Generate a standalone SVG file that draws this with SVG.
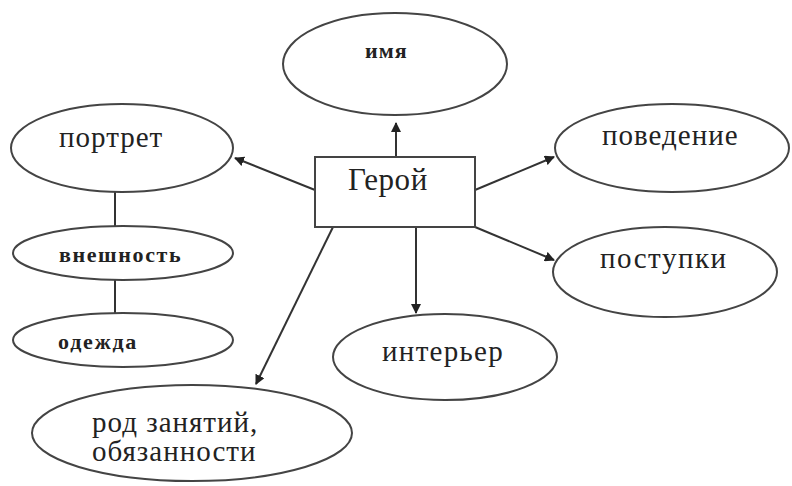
<svg xmlns="http://www.w3.org/2000/svg" width="792" height="486" viewBox="0 0 792 486">
<style>
.n{fill:#fff;stroke:#444;stroke-width:2}
.t{font-family:'Liberation Serif','DejaVu Serif',serif;fill:#222;font-size:29px;letter-spacing:1px}
.s{font-size:22px;font-weight:bold;letter-spacing:1px}
.l{stroke:#333;stroke-width:2;fill:none}
</style>
<defs>
<marker id="a" viewBox="0 0 10 10" refX="9" refY="5" markerWidth="5" markerHeight="5" orient="auto"><path d="M0,0L10,5L0,10z" fill="#222"/></marker>
</defs>
<rect width="792" height="486" fill="#fff"/>
<g id="conn">
<line class="l" x1="396" y1="157" x2="396" y2="123" marker-end="url(#a)"/>
<line class="l" x1="315" y1="190" x2="235" y2="158" marker-end="url(#a)"/>
<line class="l" x1="475" y1="190" x2="554" y2="157" marker-end="url(#a)"/>
<line class="l" x1="475" y1="227" x2="554" y2="260" marker-end="url(#a)"/>
<line class="l" x1="416" y1="227" x2="416" y2="313" marker-end="url(#a)"/>
<line class="l" x1="333" y1="227" x2="256" y2="384" marker-end="url(#a)"/>
<line class="l" x1="115" y1="192" x2="115" y2="227"/>
<line class="l" x1="115" y1="280" x2="115" y2="314"/>
</g>
<g id="imya"><ellipse class="n" cx="395" cy="64" rx="112" ry="51"/><text class="t s" x="365" y="58">имя</text></g>
<g id="geroy"><rect class="n" x="315" y="157" width="160" height="70"/><text class="t" x="348" y="190" style="font-size:31px;letter-spacing:0.6px">Герой</text></g>
<g id="portret"><ellipse class="n" cx="122" cy="148" rx="111" ry="44"/><text class="t" x="59" y="147">портрет</text></g>
<g id="vneshnost"><ellipse class="n" cx="123" cy="253" rx="110" ry="27"/><text class="t s" x="59" y="262" style="letter-spacing:1.6px">внешность</text></g>
<g id="odezhda"><ellipse class="n" cx="123" cy="340" rx="110" ry="27"/><text class="t s" x="58" y="349" style="letter-spacing:1.8px">одежда</text></g>
<g id="rod"><ellipse class="n" cx="192" cy="433" rx="160" ry="48"/><text class="t" x="92" y="432">род занятий,</text><text class="t" x="92" y="461">обязанности</text></g>
<g id="interer"><ellipse class="n" cx="445" cy="357" rx="112" ry="43"/><text class="t" x="382" y="361" style="letter-spacing:1.3px">интерьер</text></g>
<g id="povedenie"><ellipse class="n" cx="672" cy="148" rx="117" ry="44"/><text class="t" x="602" y="145">поведение</text></g>
<g id="postupki"><ellipse class="n" cx="665" cy="272" rx="112" ry="45"/><text class="t" x="600" y="268" style="letter-spacing:1.5px">поступки</text></g>
</svg>
